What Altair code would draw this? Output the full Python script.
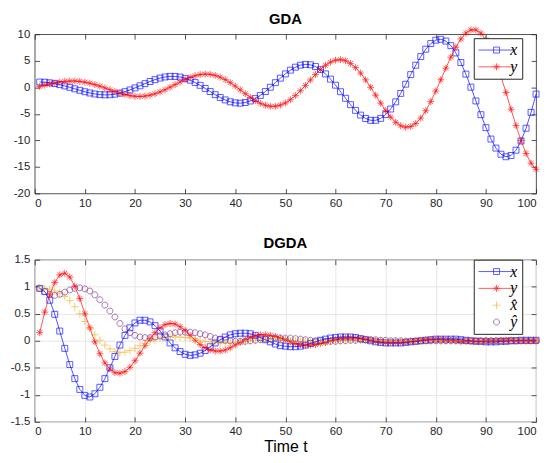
import altair as alt
import pandas as pd

# ---------------- data ----------------
t = list(range(1, 101))

gda_x = [0.99, 0.95, 0.85, 0.70, 0.50, 0.26, -0.01, -0.29, -0.57, -0.84,
         -1.07, -1.26, -1.38, -1.43, -1.40, -1.29, -1.10, -0.83, -0.50, -0.12,
         0.28, 0.69, 1.09, 1.44, 1.74, 1.95, 2.06, 2.05, 1.93, 1.69,
         1.34, 0.89, 0.37, -0.21, -0.80, -1.39, -1.92, -2.38, -2.73, -2.94,
         -2.99, -2.87, -2.58, -2.13, -1.53, -0.80, 0.01, 0.87, 1.72, 2.53,
         3.23, 3.79, 4.17, 4.32, 4.24, 3.91, 3.33, 2.53, 1.54, 0.40,
         -0.83, -2.07, -3.27, -4.35, -5.24, -5.88, -6.22, -6.22, -5.86, -5.14,
         -4.09, -2.74, -1.15, 0.58, 2.39, 4.16, 5.79, 7.18, 8.24, 8.88,
         9.05, 8.71, 7.85, 6.48, 4.67, 2.48, 0.03, -2.57, -5.16, -7.61,
         -9.75, -11.46, -12.61, -13.09, -12.85, -11.85, -10.12, -7.71, -4.72, -1.28]

gda_y = [0.16, 0.40, 0.63, 0.83, 1.00, 1.12, 1.18, 1.18, 1.11, 0.97,
         0.77, 0.51, 0.21, -0.12, -0.46, -0.80, -1.11, -1.37, -1.57, -1.69,
         -1.72, -1.65, -1.48, -1.22, -0.87, -0.46, 0.01, 0.50, 0.99, 1.46,
         1.86, 2.18, 2.40, 2.49, 2.44, 2.24, 1.91, 1.45, 0.88, 0.22,
         -0.48, -1.20, -1.89, -2.51, -3.02, -3.38, -3.58, -3.57, -3.36, -2.95,
         -2.34, -1.56, -0.65, 0.35, 1.38, 2.40, 3.34, 4.14, 4.74, 5.11,
         5.20, 5.00, 4.50, 3.72, 2.67, 1.41, 0.00, -1.49, -2.98, -4.39,
         -5.62, -6.60, -7.25, -7.52, -7.38, -6.81, -5.81, -4.42, -2.69, -0.71,
         1.42, 3.59, 5.68, 7.55, 9.11, 10.22, 10.82, 10.82, 10.20, 8.96,
         7.13, 4.79, 2.04, -0.99, -4.13, -7.21, -10.05, -12.47, -14.32, -15.45]

dgda_x = [0.97, 0.91, 0.75, 0.49, 0.18, -0.14, -0.44, -0.70, -0.90, -1.01,
          -1.04, -0.98, -0.86, -0.70, -0.50, -0.29, -0.08, 0.10, 0.24, 0.33,
          0.38, 0.38, 0.35, 0.28, 0.18, 0.07, -0.04, -0.13, -0.20, -0.25,
          -0.27, -0.26, -0.23, -0.18, -0.11, -0.04, 0.02, 0.07, 0.11, 0.13,
          0.14, 0.14, 0.13, 0.10, 0.06, 0.02, -0.02, -0.06, -0.09, -0.10,
          -0.11, -0.11, -0.10, -0.08, -0.05, -0.02, 0.01, 0.03, 0.05, 0.06,
          0.07, 0.07, 0.07, 0.06, 0.04, 0.02, 0.00, -0.02, -0.03, -0.04,
          -0.04, -0.04, -0.04, -0.03, -0.02, -0.01, 0.00, 0.01, 0.02, 0.03,
          0.03, 0.03, 0.03, 0.03, 0.02, 0.01, 0.00, -0.01, -0.01, -0.02,
          -0.02, -0.02, -0.01, -0.01, 0.00, 0.00, 0.01, 0.01, 0.01, 0.01]

dgda_y = [0.15, 0.53, 0.85, 1.08, 1.22, 1.25, 1.18, 1.01, 0.78, 0.50,
          0.24, -0.02, -0.24, -0.41, -0.52, -0.59, -0.60, -0.57, -0.49, -0.37,
          -0.23, -0.09, 0.04, 0.15, 0.24, 0.30, 0.32, 0.31, 0.26, 0.19,
          0.10, 0.01, -0.07, -0.13, -0.17, -0.19, -0.19, -0.17, -0.13, -0.08,
          -0.03, 0.02, 0.06, 0.09, 0.11, 0.11, 0.10, 0.08, 0.05, 0.02,
          -0.02, -0.05, -0.07, -0.08, -0.08, -0.07, -0.05, -0.03, 0.00, 0.02,
          0.04, 0.05, 0.05, 0.05, 0.04, 0.03, 0.01, -0.01, -0.02, -0.03,
          -0.03, -0.03, -0.03, -0.02, -0.01, 0.00, 0.01, 0.02, 0.02, 0.02,
          0.02, 0.01, 0.01, 0.00, -0.01, -0.01, -0.01, -0.01, -0.01, 0.00,
          0.00, 0.00, 0.01, 0.01, 0.01, 0.00, 0.00, 0.00, 0.00, 0.00]

dgda_xh = [0.97, 0.97, 0.95, 0.92, 0.88, 0.82, 0.74, 0.63, 0.50, 0.36,
           0.23, 0.11, 0.01, -0.08, -0.15, -0.20, -0.22, -0.21, -0.18, -0.14,
           -0.09, -0.05, -0.01, 0.02, 0.05, 0.06, 0.07, 0.07, 0.07, 0.06,
           0.05, 0.03, 0.01, -0.01, -0.02, -0.03, -0.04, -0.04, -0.04, -0.03,
           -0.02, -0.01, 0.00, 0.01, 0.02, 0.02, 0.03, 0.03, 0.02, 0.02,
           0.01, 0.00, -0.01, -0.01, -0.02, -0.02, -0.02, -0.01, -0.01, 0.00,
           0.00, 0.01, 0.01, 0.01, 0.01, 0.01, 0.01, 0.00, 0.00, 0.00,
           -0.01, -0.01, -0.01, -0.01, 0.00, 0.00, 0.00, 0.00, 0.00, 0.00,
           0.00, 0.00, 0.00, 0.00, 0.00, 0.00, 0.00, 0.00, 0.00, 0.00,
           0.00, 0.00, 0.00, 0.00, 0.00, 0.00, 0.00, 0.00, 0.00, 0.00]

dgda_yh = [0.97, 0.91, 0.86, 0.84, 0.86, 0.90, 0.94, 0.97, 0.98, 0.96,
           0.92, 0.85, 0.76, 0.66, 0.55, 0.44, 0.32, 0.22, 0.15, 0.10,
           0.07, 0.06, 0.06, 0.07, 0.09, 0.11, 0.13, 0.15, 0.16, 0.16,
           0.16, 0.15, 0.13, 0.11, 0.08, 0.05, 0.03, 0.01, 0.00, -0.01,
           -0.01, -0.01, 0.00, 0.01, 0.02, 0.03, 0.04, 0.05, 0.05, 0.05,
           0.05, 0.04, 0.03, 0.02, 0.01, 0.00, 0.00, -0.01, -0.01, -0.01,
           0.00, 0.00, 0.01, 0.01, 0.02, 0.02, 0.02, 0.02, 0.01, 0.01,
           0.00, 0.00, 0.00, -0.01, -0.01, -0.01, 0.00, 0.00, 0.00, 0.00,
           0.00, 0.00, 0.00, 0.00, 0.00, 0.00, 0.00, 0.00, 0.00, 0.00,
           0.00, 0.00, 0.00, 0.00, 0.00, 0.00, 0.00, 0.00, 0.00, 0.00]

x_ticks = [0, 10, 20, 30, 40, 50, 60, 70, 80, 90, 100]
gda_y_ticks = [-20, -15, -10, -5, 0, 5, 10]
dgda_y_ticks = [-1.5, -1, -0.5, 0, 0.5, 1, 1.5]

labels_gda = ["x", "y"]
labels_dgda = ["x", "y", "x\u0302", "\u0177"]
colors_gda = ["#0000FF", "#FF0000"]
colors_dgda = ["#0000FF", "#FF0000", "#EDB120", "#7E2F8E"]

# marker glyphs (custom symbol paths, unit = sqrt(size)/2 px)
SQUARE = "M-0.43,-0.43H0.43V0.43H-0.43Z"
STAR = "M-0.5,0H0.5M0,-0.5V0.5M-0.35,-0.35L0.35,0.35M-0.35,0.35L0.35,-0.35"
PLUS = "M-0.55,0H0.55M0,-0.55V0.55"
CIRCLE = "M0.43,0A0.43,0.43,0,1,1,-0.43,0A0.43,0.43,0,1,1,0.43,0Z"
STUB = "M-2.6,0H2.6"
SYM_SIZE = 196

FONT = "Liberation Sans"
TXT = "#262626"


def long_df(names, series):
    rows = []
    for name, vals in zip(names, series):
        for ti, v in zip(t, vals):
            rows.append({"t": ti, "v": v, "s": name})
    return pd.DataFrame(rows)


def panel(df, title, ydom, yticks, labels, colors, shapes, line_labels,
          grid, xtitle, legend_xy, height, title_offset):
    mkeys = [l + "_m" for l in labels]
    leg_shapes = [(STUB + s) if l in line_labels else s for l, s in zip(labels, shapes)]
    dom = labels + mkeys
    cscale = alt.Scale(domain=dom, range=colors + colors)
    sscale = alt.Scale(domain=dom, range=leg_shapes + shapes)
    leg = alt.Legend(values=labels, title=None, orient="none",
                     legendX=legend_xy[0], legendY=legend_xy[1],
                     labelFont="Liberation Serif", labelFontStyle="italic",
                     labelFontSize=16, labelColor="#000000",
                     symbolOffset=11, labelOffset=6, symbolSize=SYM_SIZE,
                     symbolStrokeWidth=0.8, strokeColor="#262626",
                     fillColor="#FFFFFF", padding=4, rowPadding=1)
    xs = alt.Scale(domain=[0, 100], nice=False)
    ys = alt.Scale(domain=ydom, nice=False)
    lbl = "replace(format(datum.value, '~g'), '\u2212', '-')"

    xmain_kw = dict(values=x_ticks, grid=grid, gridColor="#E6E6E6", gridWidth=1,
                    domain=False, ticks=True, tickSize=5, offset=-5,
                    tickColor=TXT, tickWidth=0.8, labelPadding=4,
                    labelFont=FONT, labelFontSize=11.5, labelColor=TXT, labelExpr=lbl)
    if xtitle:
        xmain = alt.Axis(title=xtitle, titleFont=FONT, titleFontSize=16,
                         titleFontWeight="normal", titleColor="#000000",
                         titlePadding=1, **xmain_kw)
    else:
        xmain = alt.Axis(title=None, **xmain_kw)
    ymain = alt.Axis(values=yticks, title=None, grid=grid, gridColor="#E6E6E6",
                     gridWidth=1, domain=False, ticks=True, tickSize=5, offset=-5,
                     tickColor=TXT, tickWidth=0.8, labelPadding=5,
                     labelFont=FONT, labelFontSize=11.5, labelColor=TXT, labelExpr=lbl)
    xtop = alt.Axis(orient="top", values=x_ticks, title=None, labels=False,
                    grid=False, domain=False, tickSize=5, offset=-5,
                    tickColor=TXT, tickWidth=0.8)
    yright = alt.Axis(orient="right", values=yticks, title=None, labels=False,
                      grid=False, domain=False, tickSize=5, offset=-5,
                      tickColor=TXT, tickWidth=0.8)

    base = alt.Chart(df)
    pts = base.transform_calculate(k="datum.s + '_m'").mark_point(
        filled=False, size=SYM_SIZE, strokeWidth=0.8, opacity=0.8
    ).encode(
        x=alt.X("t:Q", scale=xs, axis=xmain),
        y=alt.Y("v:Q", scale=ys, axis=ymain),
        color=alt.Color("k:N", scale=cscale, legend=leg),
        shape=alt.Shape("k:N", scale=sscale, legend=leg),
    )
    lines = base.transform_filter(
        alt.FieldOneOfPredicate(field="s", oneOf=line_labels)
    ).mark_line(strokeWidth=0.8, opacity=0.85).encode(
        x=alt.X("t:Q", scale=xs, axis=xtop),
        y=alt.Y("v:Q", scale=ys, axis=yright),
        color=alt.Color("s:N", scale=cscale, legend=leg),
        detail="s:N",
    )
    return alt.layer(pts, lines).resolve_axis(x="independent", y="independent").properties(
        width=507, height=height,
        title=alt.TitleParams(title, font=FONT, fontSize=15, fontWeight="bold",
                              color="#000000", offset=title_offset, anchor="middle"),
    )


df_gda = long_df(labels_gda, [gda_x, gda_y])
df_dgda = long_df(labels_dgda, [dgda_x, dgda_y, dgda_xh, dgda_yh])

top = panel(df_gda, "GDA", [-20, 10], gda_y_ticks, labels_gda, colors_gda,
            [SQUARE, STAR], ["x", "y"], False, None, (444, 4), 161, -2)
bottom = panel(df_dgda, "DGDA", [-1.5, 1.5], dgda_y_ticks, labels_dgda, colors_dgda,
               [SQUARE, STAR, PLUS, CIRCLE], ["x", "y"], True, "Time t", (444, 0), 164, 3)

chart = alt.vconcat(top, bottom, spacing=26).resolve_scale(
    x="independent", y="independent", color="independent", shape="independent"
).properties(
    padding={"left": 1, "top": 1, "right": 0, "bottom": 0},
    background="#FFFFFF",
).configure_view(stroke=TXT, strokeWidth=0.8)

chart.save("out.html", embed_options={"renderer": "svg", "actions": False})
